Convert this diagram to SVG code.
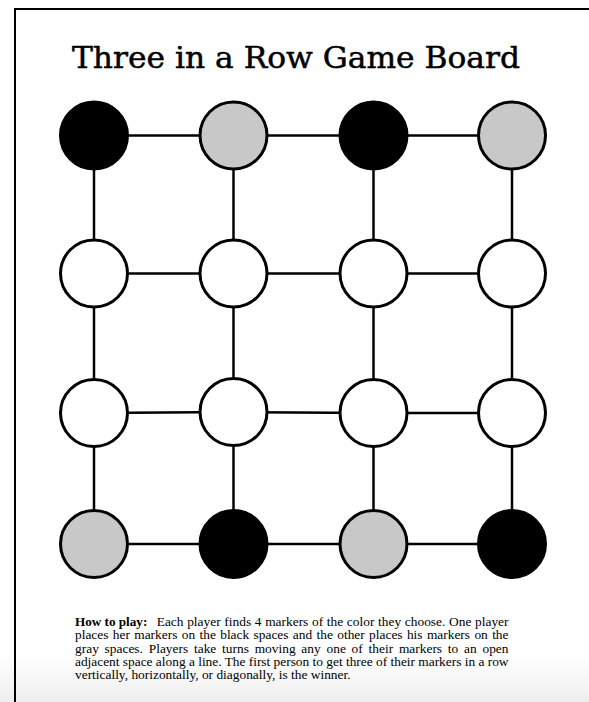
<svg xmlns="http://www.w3.org/2000/svg" width="589" height="702" viewBox="0 0 589 702">
<defs>
<linearGradient id="shade" x1="0" y1="0" x2="0" y2="1">
<stop offset="0" stop-color="#ffffff"/>
<stop offset="0.6" stop-color="#f5f5f5"/>
<stop offset="1" stop-color="#eeeeee"/>
</linearGradient>
</defs>
<style>
.edge{stroke:#000;stroke-width:2.5;fill:none}
.node{stroke:#000;stroke-width:3}
.black{fill:#000}
.gray{fill:#c8c8c8}
.white{fill:#fff}
.title{font-family:"DejaVu Serif","Liberation Serif",serif;font-size:30px;fill:#000;stroke:#000;stroke-width:0.5}
.body{font-family:"Liberation Serif","Times New Roman",serif;font-size:13.4px;fill:#000}
</style>
<rect x="0" y="0" width="589" height="702" fill="#fff"/>
<rect x="0" y="655" width="589" height="47" fill="url(#shade)"/>
<g id="page-border" stroke="#000" stroke-width="2" fill="none">
<line x1="15" y1="9" x2="589" y2="9"/>
<line x1="15" y1="8" x2="15" y2="702"/>
</g>
<text class="title" x="72" y="68" textLength="448" lengthAdjust="spacingAndGlyphs">Three in a Row Game Board</text>
<g id="connectors">
<line class="edge" x1="94" y1="135.5" x2="233.5" y2="135.5"/>
<line class="edge" x1="233.5" y1="135.5" x2="373.5" y2="135.5"/>
<line class="edge" x1="373.5" y1="135.5" x2="512" y2="135.5"/>
<line class="edge" x1="94" y1="273.5" x2="233.5" y2="273.5"/>
<line class="edge" x1="233.5" y1="273.5" x2="373.5" y2="273.5"/>
<line class="edge" x1="373.5" y1="273.5" x2="512" y2="273.5"/>
<line class="edge" x1="94" y1="413" x2="233.5" y2="412"/>
<line class="edge" x1="233.5" y1="412" x2="373.5" y2="413"/>
<line class="edge" x1="373.5" y1="413" x2="512" y2="413"/>
<line class="edge" x1="94" y1="544" x2="233.5" y2="544"/>
<line class="edge" x1="233.5" y1="544" x2="373.5" y2="544"/>
<line class="edge" x1="373.5" y1="544" x2="512" y2="544"/>
<line class="edge" x1="94" y1="135.5" x2="94" y2="273.5"/>
<line class="edge" x1="94" y1="273.5" x2="94" y2="413"/>
<line class="edge" x1="94" y1="413" x2="94" y2="544"/>
<line class="edge" x1="233.5" y1="135.5" x2="233.5" y2="273.5"/>
<line class="edge" x1="233.5" y1="273.5" x2="233.5" y2="412"/>
<line class="edge" x1="233.5" y1="412" x2="233.5" y2="544"/>
<line class="edge" x1="373.5" y1="135.5" x2="373.5" y2="273.5"/>
<line class="edge" x1="373.5" y1="273.5" x2="373.5" y2="413"/>
<line class="edge" x1="373.5" y1="413" x2="373.5" y2="544"/>
<line class="edge" x1="512" y1="135.5" x2="512" y2="273.5"/>
<line class="edge" x1="512" y1="273.5" x2="512" y2="413"/>
<line class="edge" x1="512" y1="413" x2="512" y2="544"/>
</g>
<g id="n-r1c1"><circle class="node black" cx="94" cy="135.5" r="33.5"/></g>
<g id="n-r1c2"><circle class="node gray" cx="233.5" cy="135.5" r="33.5"/></g>
<g id="n-r1c3"><circle class="node black" cx="373.5" cy="135.5" r="33.5"/></g>
<g id="n-r1c4"><circle class="node gray" cx="512" cy="135.5" r="33.5"/></g>
<g id="n-r2c1"><circle class="node white" cx="94" cy="273.5" r="33.5"/></g>
<g id="n-r2c2"><circle class="node white" cx="233.5" cy="273.5" r="33.5"/></g>
<g id="n-r2c3"><circle class="node white" cx="373.5" cy="273.5" r="33.5"/></g>
<g id="n-r2c4"><circle class="node white" cx="512" cy="273.5" r="33.5"/></g>
<g id="n-r3c1"><circle class="node white" cx="94" cy="413" r="33.5"/></g>
<g id="n-r3c2"><circle class="node white" cx="233.5" cy="412" r="33.5"/></g>
<g id="n-r3c3"><circle class="node white" cx="373.5" cy="413" r="33.5"/></g>
<g id="n-r3c4"><circle class="node white" cx="512" cy="413" r="33.5"/></g>
<g id="n-r4c1"><circle class="node gray" cx="94" cy="544" r="33.5"/></g>
<g id="n-r4c2"><circle class="node black" cx="233.5" cy="544" r="33.5"/></g>
<g id="n-r4c3"><circle class="node gray" cx="373.5" cy="544" r="33.5"/></g>
<g id="n-r4c4"><circle class="node black" cx="512" cy="544" r="33.5"/></g>
<g id="instructions">
<text class="body"><tspan x="75" y="626" font-weight="bold" textLength="72.3" lengthAdjust="spacingAndGlyphs">How to play:</tspan><tspan x="156.7" y="626" word-spacing="0.3" textLength="351.8" lengthAdjust="spacing">Each player finds 4 markers of the color they choose. One player</tspan><tspan x="75" y="639.25" word-spacing="1" textLength="433.5" lengthAdjust="spacing">places her markers on the black spaces and the other places his markers on the</tspan><tspan x="75" y="652.5" word-spacing="2.4" textLength="433.5" lengthAdjust="spacing">gray spaces. Players take turns moving any one of their markers to an open</tspan><tspan x="75" y="665.75" textLength="433.5" lengthAdjust="spacing">adjacent space along a line. The first person to get three of their markers in a row</tspan><tspan x="75" y="679">vertically, horizontally, or diagonally, is the winner.</tspan></text>
</g>
</svg>
